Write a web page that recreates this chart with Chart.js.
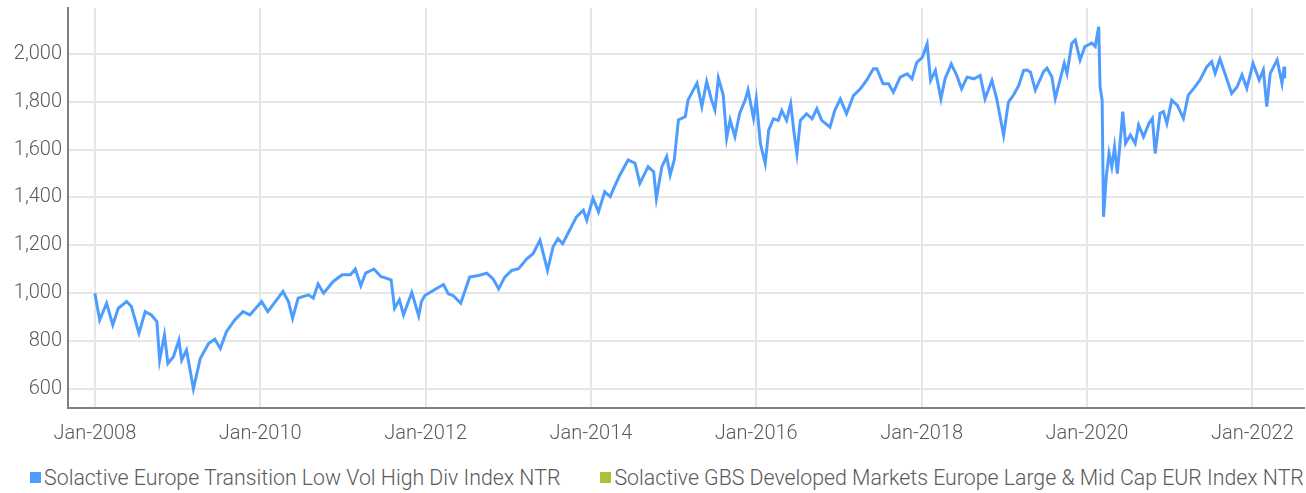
<!DOCTYPE html>
<html>
<head>
<meta charset="utf-8">
<script src="https://cdn.jsdelivr.net/npm/chart.js@4.4.1/dist/chart.umd.min.js"></script>
<style>
  html, body { margin: 0; padding: 0; background: #fff; }
  body { width: 1306px; height: 493px; overflow: hidden; font-family: Roboto, sans-serif; }
  .chart-wrap { position: relative; width: 1306px; height: 455px; }
  #legend { display: flex; justify-content: center; gap: 40px; margin-top: 10px; padding-left: 28px; color: #5a5a5a; font-size: 21.3px; font-weight: 300; white-space: nowrap; }
  #legend span.item { display: flex; align-items: center; }
  #legend i { display: inline-block; width: 11px; height: 11px; margin-right: 3px; }
</style>
</head>
<body>
<div class="chart-wrap"><canvas id="perfChart"></canvas></div>
<div id="legend"></div>
<script>
// months since Jan-2008
const months = [0, 0.7, 1.7, 2.6, 3.4, 4.6, 5.3, 6.4, 7.3, 8.2, 9.0, 9.4, 10.1, 10.6, 11.4, 12.2, 12.6, 13.3, 14.3, 15.3,
  16.5, 17.4, 18.2, 19.1, 20.3, 21.5, 22.5, 24.2, 25.1, 27.3, 28.1, 28.7, 29.5, 31, 31.7, 32.4, 33.2, 34.6, 35.9, 37.1,
  37.8, 38.6, 39.3, 40.5, 41.5, 43, 43.5, 44.2, 44.8, 46, 47, 47.4, 47.9, 49.1, 50.6, 51.3, 52.0, 53.1, 54.4, 55.7,
  56.9, 57.8, 58.6, 59.5, 60.5, 61.5, 62.7, 63.6, 64.6, 65.7, 66.5, 67.2, 67.9, 68.9, 69.9, 70.9, 71.4, 72.3, 73.1, 74.0,
  74.8, 75.3, 76.2, 77.4, 78.4, 79.1, 80.3, 81.1, 81.5, 82.3, 83, 83.5, 84.1, 84.7, 85.7, 86.1, 87.4, 88.1, 88.8, 89.5,
  90.0, 90.5, 91.2, 91.7, 92.2, 92.9, 93.6, 94.4, 94.8, 95.6, 96, 96.6, 97.3, 97.8, 98.5, 99.2, 99.7, 100.4, 101, 101.5,
  101.9, 102.4, 103.3, 104.1, 104.8, 105.5, 106.7, 107.4, 108.2, 109.1, 110.1, 111.1, 112, 113, 113.5, 114.4, 115.2, 115.9, 116.9, 117.9,
  118.6, 119.3, 120.1, 120.8, 121.3, 122, 122.8, 123.4, 124.3, 125.1, 125.8, 126.6, 127.6, 128.5, 129.2, 130.2, 130.9, 131.9, 132.6, 133.3,
  134.1, 134.8, 135.3, 135.8, 136.5, 137.7, 138.2, 138.9, 139.4, 140.7, 141.1, 141.8, 142.3, 143.0, 143.7, 144.7, 145.2, 145.7, 145.9, 146.2,
  146.4, 146.8, 147.2, 147.6, 148, 148.4, 148.8, 149.2, 149.6, 150.3, 151, 151.5, 152.2, 153.0, 153.5, 153.9, 154.6, 155.1, 155.6, 156.3,
  157.1, 158, 158.7, 159.5, 160.4, 161.4, 162.1, 162.6, 163.3, 164.1, 165, 165.8, 166.5, 167.2, 168.1, 169, 169.6, 170.1, 170.6, 171.6,
  172.3, 172.6, 172.7];

const transitionValues = [1000, 888, 958, 867, 937, 965, 944, 832, 923, 909, 881, 720, 825, 706, 734, 804, 720, 762, 600, 727,
  790, 808, 769, 839, 888, 923, 909, 965, 923, 1007, 965, 895, 979, 993, 979, 1038, 1000, 1049, 1077, 1077,
  1101, 1031, 1084, 1101, 1070, 1056, 937, 972, 909, 1003, 905, 965, 990, 1011, 1036, 997, 990, 958, 1067, 1074,
  1084, 1060, 1018, 1067, 1095, 1102, 1144, 1165, 1221, 1095, 1193, 1228, 1207, 1263, 1319, 1347, 1305, 1396, 1340, 1424,
  1403, 1438, 1494, 1557, 1543, 1459, 1529, 1508, 1396, 1529, 1571, 1494, 1557, 1724, 1738, 1808, 1878, 1780, 1885, 1808,
  1766, 1899, 1829, 1648, 1724, 1655, 1752, 1808, 1850, 1731, 1812, 1625, 1542, 1681, 1729, 1722, 1764, 1722, 1792, 1667,
  1583, 1722, 1750, 1729, 1771, 1722, 1694, 1764, 1812, 1750, 1826, 1854, 1889, 1938, 1938, 1875, 1875, 1840, 1903, 1917,
  1896, 1965, 1986, 2042, 1889, 1931, 1812, 1896, 1958, 1910, 1854, 1903, 1896, 1910, 1812, 1889, 1812, 1660, 1799, 1826,
  1868, 1931, 1933, 1924, 1849, 1926, 1940, 1905, 1814, 1961, 1919, 2045, 2059, 1975, 2031, 2045, 2031, 2114, 1863, 1807,
  1319, 1486, 1584, 1528, 1612, 1500, 1626, 1759, 1626, 1661, 1626, 1703, 1654, 1710, 1731, 1584, 1752, 1759, 1710, 1807,
  1786, 1731, 1828, 1856, 1891, 1947, 1968, 1919, 1978, 1912, 1835, 1863, 1912, 1856, 1961, 1891, 1933, 1780, 1919, 1975,
  1877, 1947, 1898];

// benchmark series: listed in the legend, no line drawn
const benchmarkValues = [];

const xTickMonths = [0, 24, 48, 72, 96, 120, 144, 168];
const xTickLabels = ['Jan-2008', 'Jan-2010', 'Jan-2012', 'Jan-2014', 'Jan-2016', 'Jan-2018', 'Jan-2020', 'Jan-2022'];
const yTicks = [600, 800, 1000, 1200, 1400, 1600, 1800, 2000];

const seriesNames = [
  'Solactive Europe Transition Low Vol High Div Index NTR',
  'Solactive GBS Developed Markets Europe Large & Mid Cap EUR Index NTR'
];
const seriesColors = ['#4f9cff', '#a5c43a'];

const tickFont = { family: 'Roboto, sans-serif', size: 20, weight: '300' };

document.addEventListener('DOMContentLoaded', function() {
  const chart = initChart();
  buildLegend(chart);
});

function toPoints(xs, ys) {
  return ys.map((v, i) => ({ x: xs[i], y: v }));
}

function initChart() {
  const ctx = document.getElementById('perfChart').getContext('2d');
  return new Chart(ctx, {
    type: 'line',
    data: {
      datasets: [{
        label: seriesNames[0],
        data: toPoints(months, transitionValues),
        borderColor: seriesColors[0],
        backgroundColor: seriesColors[0],
        borderWidth: 3,
        pointRadius: 0,
        tension: 0
      }, {
        label: seriesNames[1],
        data: toPoints(months, benchmarkValues),
        borderColor: seriesColors[1],
        backgroundColor: seriesColors[1],
        borderWidth: 3,
        pointRadius: 0
      }]
    },
    options: {
      responsive: true,
      maintainAspectRatio: false,
      animation: false,
      layout: { padding: { top: 8, right: 2 } },
      plugins: {
        legend: { display: false },
        tooltip: { enabled: false }
      },
      scales: {
        x: {
          type: 'linear',
          min: -3.9,
          max: 175.5,
          afterBuildTicks: function(scale) {
            scale.ticks = xTickMonths.map(v => ({ value: v }));
          },
          afterFit: function(scale) {
            scale.height = 47;
            scale.paddingLeft = 0;
            scale.paddingRight = 0;
          },
          ticks: {
            autoSkip: false,
            maxRotation: 0,
            padding: 14,
            color: '#5a5a5a',
            font: tickFont,
            callback: function(value) {
              const i = xTickMonths.indexOf(value);
              return i >= 0 ? xTickLabels[i] : '';
            }
          },
          grid: { color: '#e6e6e6', lineWidth: 2, drawTicks: false },
          border: { display: true, color: '#7f7f7f', width: 2 }
        },
        y: {
          min: 520,
          max: 2192,
          afterBuildTicks: function(scale) {
            scale.ticks = yTicks.map(v => ({ value: v }));
          },
          afterFit: function(scale) {
            scale.width = 68;
            scale.paddingTop = 0;
            scale.paddingBottom = 0;
          },
          ticks: {
            padding: 6,
            color: '#5a5a5a',
            font: tickFont,
            callback: function(value) {
              return value.toLocaleString('en-US');
            }
          },
          grid: { color: '#e6e6e6', lineWidth: 2, drawTicks: false },
          border: { display: true, color: '#7f7f7f', width: 2 }
        }
      }
    }
  });
}

function buildLegend(chart) {
  const legend = document.getElementById('legend');
  legend.innerHTML = chart.data.datasets.map(ds => `
    <span class="item"><i style="background:${ds.borderColor}"></i>${ds.label.replace('&', '&amp;')}</span>
  `).join('');
}
</script>
</body>
</html>
